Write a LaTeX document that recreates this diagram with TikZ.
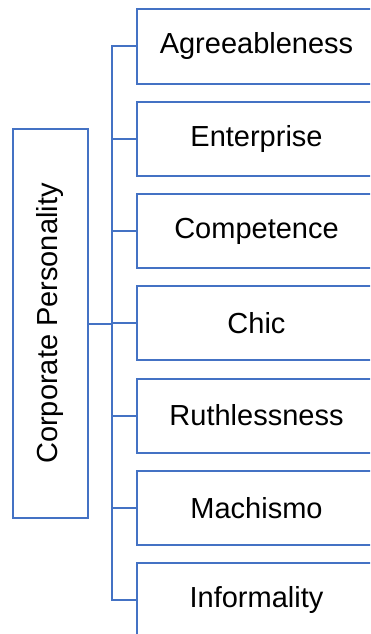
\documentclass[tikz,border=0pt]{standalone}
\usepackage{fontspec}
\setmainfont{Liberation Sans}
\definecolor{boxblue}{HTML}{4472C4}
\begin{document}
\begin{tikzpicture}[x=1pt,y=-1pt,
  box/.style={draw=boxblue, line width=2pt, rectangle, inner sep=0pt,
    font=\fontsize{29}{34}\selectfont},
  childbox/.style={box, minimum width=239pt, minimum height=74pt, anchor=west},
  link/.style={draw=boxblue, line width=2pt}]
\useasboundingbox (0,0) rectangle (370,634);
\clip (0,0) rectangle (370,634);
\node[box, minimum width=75pt, minimum height=389pt] (root) at (50.5,323.5) {};
\node[rotate=90, font=\fontsize{29}{34}\selectfont, inner sep=0pt] (roottext) at (root.center) {Corporate Personality};
\node[childbox] (c1) at (136,46.5) {Agreeableness};
\node[childbox] (c2) at (136,138.75) {Enterprise};
\node[childbox] (c3) at (136,231) {Competence};
\node[childbox] (c4) at (136,323.25) {Chic};
\node[childbox] (c5) at (136,415.5) {Ruthlessness};
\node[childbox] (c6) at (136,507.75) {Machismo};
\node[childbox] (c7) at (136,600) {Informality};
\coordinate (t) at (112,323.5);
\draw[link] (root.east) -- (t);
\foreach \c in {c1,c2,c3,c4,c5,c6,c7}{
  \draw[link] (t) |- (\c.west);
}
\end{tikzpicture}
\end{document}
